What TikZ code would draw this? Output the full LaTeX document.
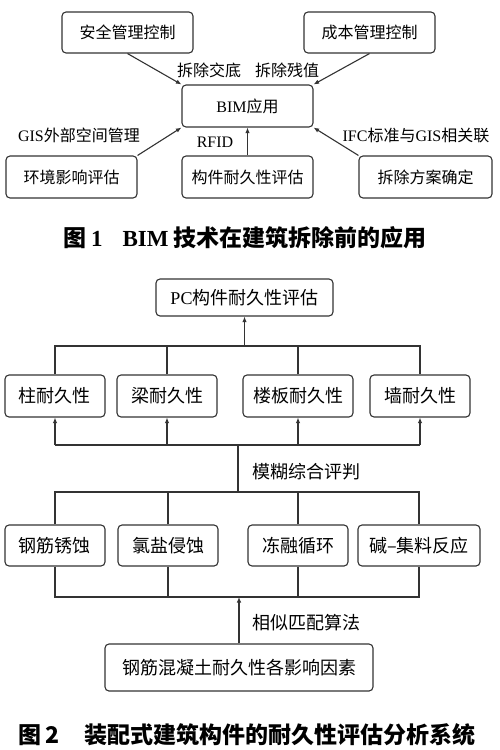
\documentclass[tikz,border=0pt]{standalone}
\usepackage{fontspec}
\setmainfont{Noto Sans CJK SC}
\newfontfamily\lat{Liberation Serif}
\usetikzlibrary{arrows.meta}
\begin{document}
\begin{tikzpicture}[x=1pt,y=-1pt,
  box/.style={draw=black!80, line width=1.1pt, rounded corners=4pt, fill=white, inner sep=0pt},
  boxa/.style={box, minimum width=131pt, minimum height=42pt, font=\fontsize{16}{16}\selectfont},
  boxb/.style={box, minimum height=41pt, font=\fontsize{18}{18}\selectfont},
  ln/.style={draw=black!80, line width=1.1pt},
  arr/.style={ln, -{Latex[length=5.5pt,width=4.5pt]}},
  lbla/.style={inner sep=0pt, font=\fontsize{16}{16}\selectfont},
  lblb/.style={inner sep=0pt, anchor=west, font=\fontsize{18}{18}\selectfont},
  captext/.style={inner sep=0pt, font=\fontsize{23}{23}\selectfont\bfseries}]
\fill[white] (0,0) rectangle (500,750);
\useasboundingbox (0,0) rectangle (500,750);

% ---------- Figure 1 ----------
\node[boxa, minimum height=41pt] (s1) at (127.5,32.5) {安全管理控制};
\node[boxa, minimum height=41pt] (s2) at (369.5,32.5) {成本管理控制};
\node[boxa] (bim) at (247.5,106) {{\lat BIM}应用};
\node[boxa] (env) at (71.5,177) {环境影响评估};
\node[boxa] (dur) at (247.5,177) {构件耐久性评估};
\node[boxa, minimum width=133pt] (plan) at (425.5,177) {拆除方案确定};

\node[lbla] (l1) at (209,70) {拆除交底};
\node[lbla] (l2) at (287,70) {拆除残值};
\node[lbla] (l3) at (79,135) {{\lat GIS}外部空间管理};
\node[lbla] (l4) at (215,142) {\lat RFID};
\node[lbla] (l5) at (416,135) {{\lat IFC}标准与{\lat GIS}相关联};

\draw[arr] (s1.south) -- (bim.north west);
\draw[arr] (s2.south) -- (bim.north east);
\draw[arr] (env.north east) -- (bim.south west);
\draw[arr] (dur.north) -- (bim.south);
\draw[arr] (plan.north west) -- (bim.south east);

\node[captext] (cap1) at (245,238) {图\hspace{5pt}{\lat 1}\hspace{20pt}{\lat BIM} 技术在建筑拆除前的应用};

% ---------- Figure 2 ----------
\node[boxb, minimum width=177pt, minimum height=37pt] (pc) at (244.5,297.5) {{\lat PC}构件耐久性评估};

\node[boxb, minimum width=100pt, minimum height=42pt] (ca) at (55,396) {柱耐久性};
\node[boxb, minimum width=100pt, minimum height=42pt] (la) at (167,396) {梁耐久性};
\node[boxb, minimum width=110pt, minimum height=42pt] (ba) at (298,396) {楼板耐久性};
\node[boxb, minimum width=100pt, minimum height=42pt] (wa) at (420,396) {墙耐久性};

\coordinate (b1) at (0,346);
\coordinate (b2) at (0,445);
\coordinate (m1) at (238,445);
\coordinate (m2) at (238,492);

\draw[ln] (ca.north) -- (ca.north |- b1) -- (wa.north |- b1) -- (wa.north);
\draw[ln] (la.north) -- (la.north |- b1);
\draw[ln] (ba.north) -- (ba.north |- b1);
\draw[arr] (pc.south |- b1) -- (pc.south);

\draw[ln] (ca.south |- b2) -- (wa.south |- b2);
\draw[arr] (ca.south |- b2) -- (ca.south);
\draw[arr] (la.south |- b2) -- (la.south);
\draw[arr] (ba.south |- b2) -- (ba.south);
\draw[arr] (wa.south |- b2) -- (wa.south);
\draw[ln] (m1) -- (m2);
\node[lblb] (l6) at (252,472) {模糊综合评判};

\node[boxb, minimum width=100pt] (cb) at (55,545.5) {钢筋锈蚀};
\node[boxb, minimum width=100pt] (lb) at (168,545.5) {氯盐侵蚀};
\node[boxb, minimum width=100pt] (fb) at (298,545.5) {冻融循环};
\node[boxb, minimum width=122pt] (ab) at (419,545.5) {碱–集料反应};

\coordinate (b4) at (0,597);
\draw[ln] (cb.north) -- (cb.north |- m2) -- (ab.north |- m2) -- (ab.north);
\draw[ln] (lb.north) -- (lb.north |- m2);
\draw[ln] (fb.north) -- (fb.north |- m2);

\draw[ln] (cb.south) -- (cb.south |- b4) -- (ab.south |- b4) -- (ab.south);
\draw[ln] (lb.south) -- (lb.south |- b4);
\draw[ln] (fb.south) -- (fb.south |- b4);

\node[boxb, minimum width=268pt, minimum height=47pt] (bot) at (239,667.5) {钢筋混凝土耐久性各影响因素};
\draw[arr] (bot.north) -- (bot.north |- b4);
\node[lblb] (l7) at (252,623) {相似匹配算法};

\node[captext] (cap2) at (247,735) {图\,2\hspace{25pt}装配式建筑构件的耐久性评估分析系统};
\end{tikzpicture}
\end{document}
